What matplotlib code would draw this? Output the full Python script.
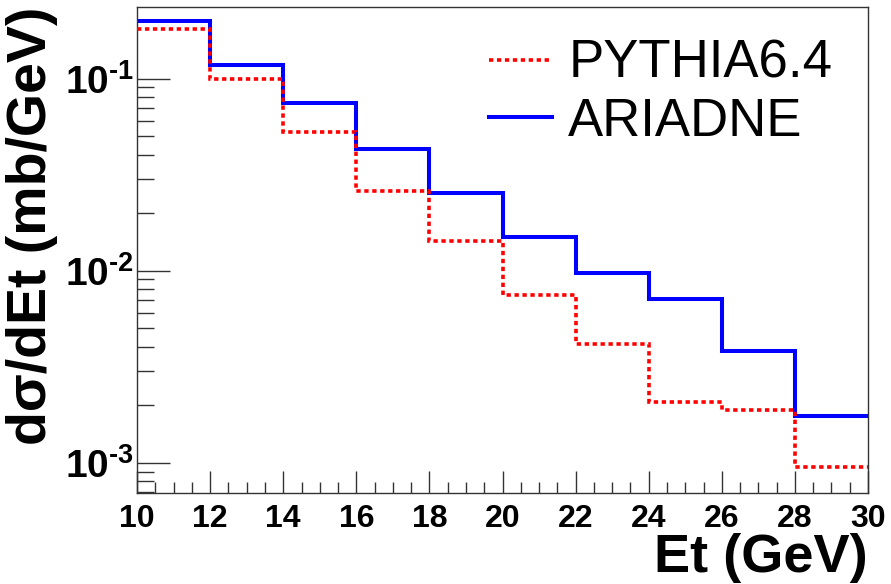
import matplotlib
matplotlib.use('Agg')
import matplotlib.pyplot as plt
from matplotlib.ticker import FixedLocator, MultipleLocator, LogLocator, FuncFormatter, NullFormatter
from numpy import log10

# bin edges in Et (GeV)
et_edges = [10, 12, 14, 16, 18, 20, 22, 24, 26, 28, 30]

# dsigma/dEt (mb/GeV) per bin
pythia = [0.1815, 0.0996, 0.0530, 0.0261, 0.01428, 0.00747, 0.00415, 0.00208, 0.00189, 0.000946]
ariadne = [0.1998, 0.1174, 0.0750, 0.0429, 0.0253, 0.0149, 0.00969, 0.00712, 0.00383, 0.00176]

x_ticks = [10, 12, 14, 16, 18, 20, 22, 24, 26, 28, 30]
y_ticks = [1e-3, 1e-2, 1e-1]

plt.rcParams['font.family'] = ['Liberation Sans', 'DejaVu Sans']
plt.rcParams['mathtext.fontset'] = 'custom'
plt.rcParams['mathtext.rm'] = 'Liberation Sans:bold'
plt.rcParams['mathtext.bf'] = 'Liberation Sans:bold'
plt.rcParams['mathtext.it'] = 'Liberation Sans:bold'

fig = plt.figure(figsize=(8.91, 5.84), dpi=100)
ax = fig.add_axes([0.1538, 0.1553, 0.8204, 0.8327])

ax.stairs(ariadne, et_edges, color='#0000ff', linewidth=2.9, baseline=None, label='ARIADNE', zorder=2)
ax.stairs(pythia, et_edges, color='#ff0000', linewidth=2.6, baseline=None,
          linestyle=(0, (1.2, 1.0)), label='PYTHIA6.4', zorder=3)

ax.set_yscale('log')
ax.set_xlim(10, 30)
ax.set_ylim(6.93e-4, 0.236)

ax.xaxis.set_major_locator(FixedLocator(x_ticks))
ax.xaxis.set_minor_locator(MultipleLocator(0.5))
ax.yaxis.set_major_locator(FixedLocator(y_ticks))
ax.yaxis.set_minor_locator(LogLocator(base=10, subs=[2, 3, 4, 5, 6, 7, 8, 9]))
ax.yaxis.set_minor_formatter(NullFormatter())
# plain hyphen in the exponent, like the original
ax.yaxis.set_major_formatter(FuncFormatter(
    lambda v, p: '$\\mathbf{10^{\u2010%d}}$' % abs(round(log10(v)))))

ax.tick_params(axis='both', which='both', direction='in', top=False, right=False, colors='#333333')
ax.tick_params(axis='x', which='major', length=15.5, width=1, pad=8, labelsize=23, labelcolor='black')
ax.tick_params(axis='x', which='minor', length=8, width=1)
ax.tick_params(axis='y', which='major', length=24, width=1, pad=2, labelsize=28, labelcolor='black')
ax.tick_params(axis='y', which='minor', length=12, width=1)
for lab in ax.get_xticklabels():
    lab.set_fontweight('bold')

for s in ax.spines.values():
    s.set_color('#333333')
    s.set_linewidth(1)

ax.set_xlabel('Et (GeV)', fontsize=39, fontweight='bold', loc='right', labelpad=-1)
ax.set_ylabel('d\u03c3/dEt (mb/GeV)', fontsize=40, fontweight='bold', loc='top')
ax.yaxis.set_label_coords(-0.108, 1.0)

h = {l.get_label(): l for l in ax.patches}
ax.legend([h['PYTHIA6.4'], h['ARIADNE']], ['PYTHIA6.4', 'ARIADNE'], loc='upper left',
          bbox_to_anchor=(489 / 891, 1 - 39 / 584), bbox_transform=fig.transFigure,
          frameon=False, fontsize=38, handlelength=1.2, handletextpad=0.3,
          labelspacing=0.15, borderpad=0, borderaxespad=0)

fig.savefig('out.png', dpi=100)
